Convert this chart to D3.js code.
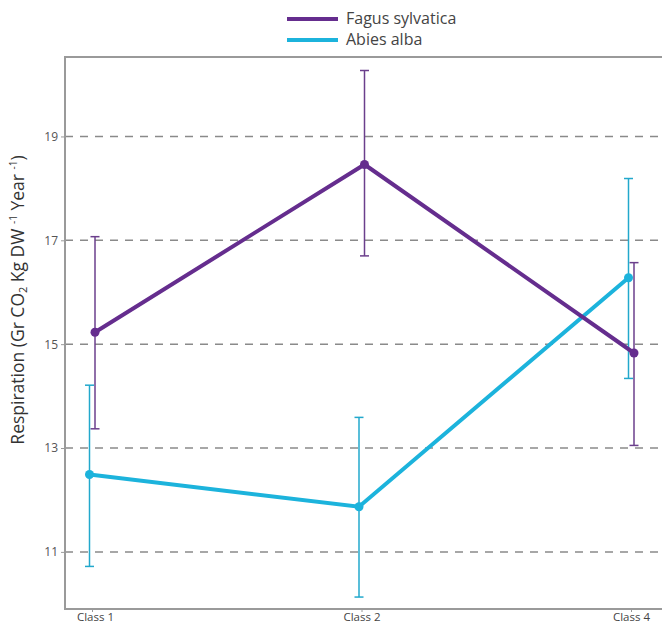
<!DOCTYPE html>
<html><head><meta charset="utf-8">
<script src="https://cdn.jsdelivr.net/npm/d3@7"></script>
<style>body{margin:0;background:#fff}svg{display:block}</style>
</head><body>
<script>
const categories = ["Class 1", "Class 2", "Class 4"];
const seriesNames = ["Fagus sylvatica", "Abies alba"];
const fagusMean = [15.23, 18.46, 14.83];
const fagusLow  = [13.37, 16.70, 13.05];
const fagusHigh = [17.07, 20.27, 16.57];
const abiesMean = [12.49, 11.87, 16.28];
const abiesLow  = [10.72, 10.13, 14.34];
const abiesHigh = [14.21, 13.59, 18.19];
const yTicks = [11, 13, 15, 17, 19];

(function () {
const W = 662, H = 627;
const svg = d3.select("body").append("svg").attr("width", W).attr("height", H);
const mLeft = 65, mTop = 57, mBottom = 609;
const x = d3.scalePoint().domain(categories).range([92, 631]);
const y = d3.scaleLinear().domain([9.9, 20.53]).range([mBottom, mTop]);

// gridlines
svg.append("g").selectAll("line").data(yTicks).join("line")
  .attr("x1", mLeft).attr("x2", W).attr("y1", d => y(d)).attr("y2", d => y(d))
  .attr("stroke", "#8a8a8a").attr("stroke-width", 1.5).attr("stroke-dasharray", "8,7");

// frame
svg.append("path").attr("d", `M${W},${mTop}H${mLeft}V${mBottom}H${W}`)
  .attr("fill", "none").attr("stroke", "#9a9a9a").attr("stroke-width", 2);

// y axis
const yAxis = svg.append("g").attr("transform", `translate(${mLeft},0)`)
  .call(d3.axisLeft(y).tickValues(yTicks).tickSize(4).tickFormat(d3.format("d")));
yAxis.select(".domain").remove();
yAxis.selectAll("line").attr("stroke", "#9a9a9a");
yAxis.selectAll("text").attr("fill", "#555").attr("font-size", 12).attr("font-family", "Open Sans, sans-serif");

// x axis
const xAxis = svg.append("g").attr("transform", `translate(0,${mBottom})`)
  .call(d3.axisBottom(x).tickSize(3).tickPadding(1));
xAxis.select(".domain").remove();
xAxis.selectAll("line").attr("stroke", "#9a9a9a");
xAxis.selectAll("text").attr("fill", "#444").attr("font-size", 11.5).attr("font-family", "Open Sans, sans-serif")
  .attr("dx", (d, i) => i === 0 ? 3 : 0);

// y title
const yt = svg.append("text").attr("transform", `translate(24,300) rotate(-90)`)
  .attr("text-anchor", "middle").attr("fill", "#333").attr("font-size", 17.5).attr("font-family", "Open Sans, sans-serif");
yt.append("tspan").text("Respiration (Gr CO");
yt.append("tspan").attr("font-size", 11).attr("dy", 3).text("2");
yt.append("tspan").attr("dy", -3).text(" Kg DW ");
yt.append("tspan").attr("font-size", 10).attr("dy", -7).text("-1");
yt.append("tspan").attr("dy", 7).text(" Year ");
yt.append("tspan").attr("font-size", 10).attr("dy", -7).text("-1");
yt.append("tspan").attr("dy", 7).text(")");

const series = [
  {name: seriesNames[0], mean: fagusMean, lo: fagusLow, hi: fagusHigh, color: "#652d8e", ecolor: "#6b3f8c", dx: 3},
  {name: seriesNames[1], mean: abiesMean, lo: abiesLow, hi: abiesHigh, color: "#1cb3dc", ecolor: "#22a8cc", dx: -2.5}
];

const line = d3.line().x(d => d.x).y(d => d.y);
series.forEach(s => {
  const g = svg.append("g");
  categories.forEach((c, i) => {
    const cx = x(c) + s.dx;
    g.append("line").attr("x1", cx).attr("x2", cx).attr("y1", y(s.lo[i])).attr("y2", y(s.hi[i]))
      .attr("stroke", s.ecolor).attr("stroke-width", 1.5);
    [s.lo[i], s.hi[i]].forEach(v => g.append("line").attr("x1", cx - 4.5).attr("x2", cx + 4.5)
      .attr("y1", y(v)).attr("y2", y(v)).attr("stroke", s.ecolor).attr("stroke-width", 1.5));
  });
});
series.slice().reverse().forEach(s => {
  const pts = categories.map((c, i) => ({x: x(c) + s.dx, y: y(s.mean[i])}));
  svg.append("path").attr("d", line(pts)).attr("fill", "none").attr("stroke", s.color).attr("stroke-width", 4);
  svg.append("g").selectAll("circle").data(pts).join("circle")
    .attr("cx", d => d.x).attr("cy", d => d.y).attr("r", 4.5).attr("fill", s.color);
});

// legend
const lg = svg.append("g");
series.forEach((s, i) => {
  const ly = 19 + i * 21;
  lg.append("line").attr("x1", 287).attr("x2", 338).attr("y1", ly).attr("y2", ly)
    .attr("stroke", s.color).attr("stroke-width", 4);
  lg.append("text").attr("x", 346).attr("y", ly + 5).attr("fill", "#444").attr("font-size", 16)
    .attr("font-family", "Open Sans, sans-serif").text(s.name);
});
})();
</script>
</body></html>
